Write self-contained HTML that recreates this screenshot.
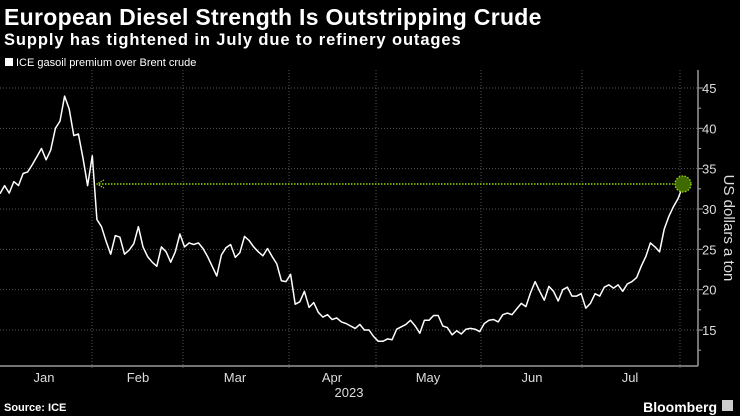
<!DOCTYPE html>
<html><head><meta charset="utf-8"><style>
body{margin:0;background:#000;width:740px;height:416px;overflow:hidden;font-family:"Liberation Sans",sans-serif;color:#fff}
svg{position:absolute;left:0;top:0}
</style></head><body>
<svg width="740" height="416">
<text x="4" y="25" font-size="23" font-weight="bold" letter-spacing="0.3" fill="#fff">European Diesel Strength Is Outstripping Crude</text>
<text x="4" y="45" font-size="16.5" font-weight="bold" letter-spacing="0.9" fill="#fff">Supply has tightened in July due to refinery outages</text>
<rect x="5" y="58" width="8" height="8" fill="#fff"/>
<text x="16" y="66" font-size="11" fill="#fff">ICE gasoil premium over Brent crude</text>
<g id="grid"></g>
<g id="axes"></g>
<g id="marks"></g>
<text transform="translate(724,228) rotate(90)" font-size="15" fill="#ddd" text-anchor="middle">US dollars a ton</text>
<text x="4" y="411" font-size="11" font-weight="bold" fill="#fff">Source: ICE</text>
<text x="717" y="412" font-size="14" font-weight="bold" fill="#fff" text-anchor="end">Bloomberg</text>
<rect x="722" y="400" width="11" height="11" fill="#ccc"/>
</svg>
<script>
const values=[31.9,32.9,31.97,33.4,32.9,34.4,34.6,35.5,36.5,37.5,36.1,37.3,40,40.9,44,42.4,39.1,39.3,36.3,32.9,36.6,28.7,27.8,26,24.4,26.7,26.5,24.4,24.9,25.7,27.8,25.3,24.1,23.4,22.9,25.3,24.7,23.4,24.7,26.9,25.3,25.8,25.6,25.8,25.1,24.1,22.9,21.7,24.3,25.2,25.6,24,24.6,26.6,26.1,25.3,24.7,24.2,25.1,24.1,23.2,21.1,21,21.9,18.2,18.5,19.8,17.8,18.4,17.2,16.6,16.9,16.3,16.5,16,15.8,15.5,15.2,15.7,15,15,14.2,13.6,13.6,13.9,13.8,15.1,15.4,15.7,16.2,15.5,14.6,16.2,16.2,16.8,16.8,15.5,15.3,14.4,14.9,14.5,15.1,15.2,15.1,14.8,15.8,16.2,16.3,16,16.9,17.1,16.9,17.6,18.3,17.9,19.6,21,19.8,18.7,20.4,19.8,18.6,20,20.3,19.2,19.2,19.5,17.7,18.3,19.5,19.2,20.3,20.6,20.2,20.6,19.8,20.7,21,21.5,22.9,24.1,25.8,25.3,24.7,27.5,29.1,30.3,31.3,32.8];
const yTicks=[15,20,25,30,35,40,45];
const months=["Jan","Feb","Mar","Apr","May","Jun","Jul"];
const monthCenters=[44,138,235,332,428,532,630];
const monthBounds=[92,183,289,376,481,582,680];
const lastValue=33.1;
const NS="http://www.w3.org/2000/svg";
const yS=v=>330-(v-15)*8.067;
const xS=i=>i*(682.7/(values.length-1));
function mk(tag,attrs,parent){const e=document.createElementNS(NS,tag);for(const k in attrs)e.setAttribute(k,attrs[k]);document.getElementById(parent).appendChild(e);return e;}
yTicks.forEach(t=>{
 const l=mk('line',{x1:0,x2:698,y1:yS(t),y2:yS(t),stroke:'#555','stroke-dasharray':'1,2'},'grid');
 
 
 const tk=mk('line',{x1:698,x2:703,y1:yS(t),y2:yS(t),stroke:'#aaa'},'axes');
 
 
 const tx=mk('text',{x:702,y:yS(t)+5,'font-size':13,fill:'#ddd'},'axes');tx.textContent=t;
 
 
});
[12.5,17.5,22.5,27.5,32.5,37.5,42.5].forEach(t=>{const m=mk('line',{x1:698,x2:701,y1:yS(t),y2:yS(t),stroke:'#aaa'},'axes');
 
 });
monthBounds.forEach(x=>{
 const l=mk('line',{x1:x,x2:x,y1:70,y2:370,stroke:'#555','stroke-dasharray':'1,2'},'grid');
 
 
});
months.forEach((m,i)=>{const t=mk('text',{x:monthCenters[i],y:382,'font-size':13,fill:'#ddd','text-anchor':'middle'},'axes');t.textContent=m;
 
 });
const yr=mk('text',{x:349,y:397,'font-size':13,fill:'#ddd','text-anchor':'middle'},'axes');yr.textContent='2023';


const xa=mk('line',{x1:0,x2:698,y1:366,y2:366,stroke:'#999','stroke-width':1.5},'axes');


const ya=mk('line',{x1:698,x2:698,y1:70,y2:366,stroke:'#999','stroke-width':1.5},'axes');


const gl=mk('line',{x1:99,x2:683,y1:yS(lastValue),y2:yS(lastValue),stroke:'#8fd400','stroke-width':1.5,'stroke-dasharray':'1.5,1.5'},'marks');


const ah=mk('path',{d:`M104 ${yS(lastValue)-4} L97 ${yS(lastValue)} L104 ${yS(lastValue)+4}`,stroke:'#8fd400',fill:'none','stroke-width':1.2,'stroke-dasharray':'1.5,1'},'marks');


const ln=mk('polyline',{points:values.map((v,i)=>xS(i).toFixed(1)+','+yS(v).toFixed(1)).join(' '),fill:'none',stroke:'#fff','stroke-width':1.5,'stroke-linejoin':'round'},'marks');


const dot=mk('circle',{cx:683,cy:yS(lastValue),r:8,fill:'#3f6a00',stroke:'#9be000','stroke-width':1.3,'stroke-dasharray':'1.5,1.5'},'marks');


</script>
</body></html>
